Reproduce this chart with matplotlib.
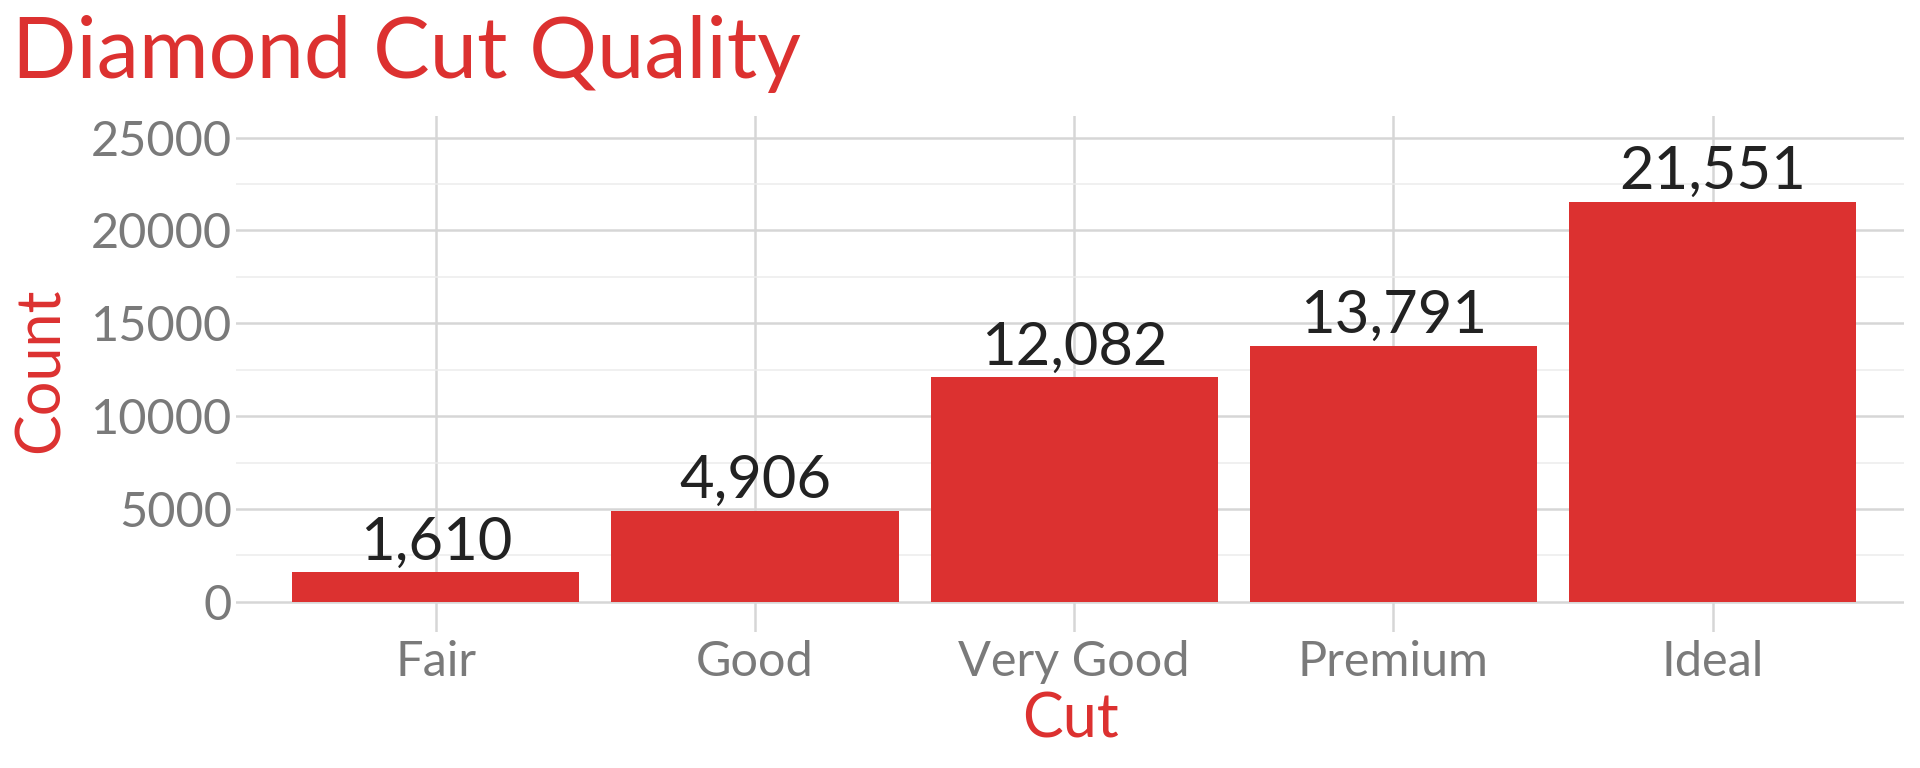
import numpy as np
import matplotlib.pyplot as plt
from matplotlib.ticker import MultipleLocator

# -----------------------------
# Data
# -----------------------------
cuts = ["Fair", "Good", "Very Good", "Premium", "Ideal"]
counts = [1610, 4906, 12082, 13791, 21551]

red = "#dc3130"
grey = "#7a7a7a"

plt.rcParams["font.family"] = ["Lato", "DejaVu Sans"]

# -----------------------------
# Plot
# -----------------------------
fig = plt.figure(figsize=(19.2, 7.68), dpi=100)
ax = fig.add_axes([0.1229, 0.177, 0.8688, 0.672])

x = np.arange(len(cuts))
ax.bar(x, counts, width=0.9, color=red, zorder=3)

for xi, c in zip(x, counts):
    ax.annotate(f"{c:,}", (xi, c), xytext=(0, 9), textcoords="offset points",
                ha="center", va="baseline", fontsize=43, color="#222222",
                zorder=4)

# -----------------------------
# Formatting
# -----------------------------
ax.set_xlim(-0.626, 4.6)
ax.set_ylim(-1626, 26160)
ax.set_xticks(x)
ax.set_xticklabels(cuts)
ax.yaxis.set_major_locator(MultipleLocator(5000))
ax.yaxis.set_minor_locator(MultipleLocator(2500))

ax.grid(which="major", color="#d6d6d6", lw=1.8, zorder=0)
ax.grid(which="minor", axis="y", color="#ececec", lw=1.1, zorder=0)
ax.tick_params(axis="both", which="both", length=0, labelsize=35, colors=grey)
ax.tick_params(axis="y", pad=3)
ax.tick_params(axis="x", pad=6)
for s in ax.spines.values():
    s.set_visible(False)

ax.set_xlabel("Cut", fontsize=44, color=red)
ax.set_ylabel("Count", fontsize=44, color=red)
ax.xaxis.set_label_coords(0.5, -0.116)
ax.xaxis.label.set_va("top")
ax.yaxis.set_label_coords(-0.0995, 0.508)

fig.text(12 / 1920, 1 - 78 / 768, "Diamond Cut Quality", fontsize=61,
         color=red, ha="left", va="baseline")

fig.savefig("out.png", dpi=100)
